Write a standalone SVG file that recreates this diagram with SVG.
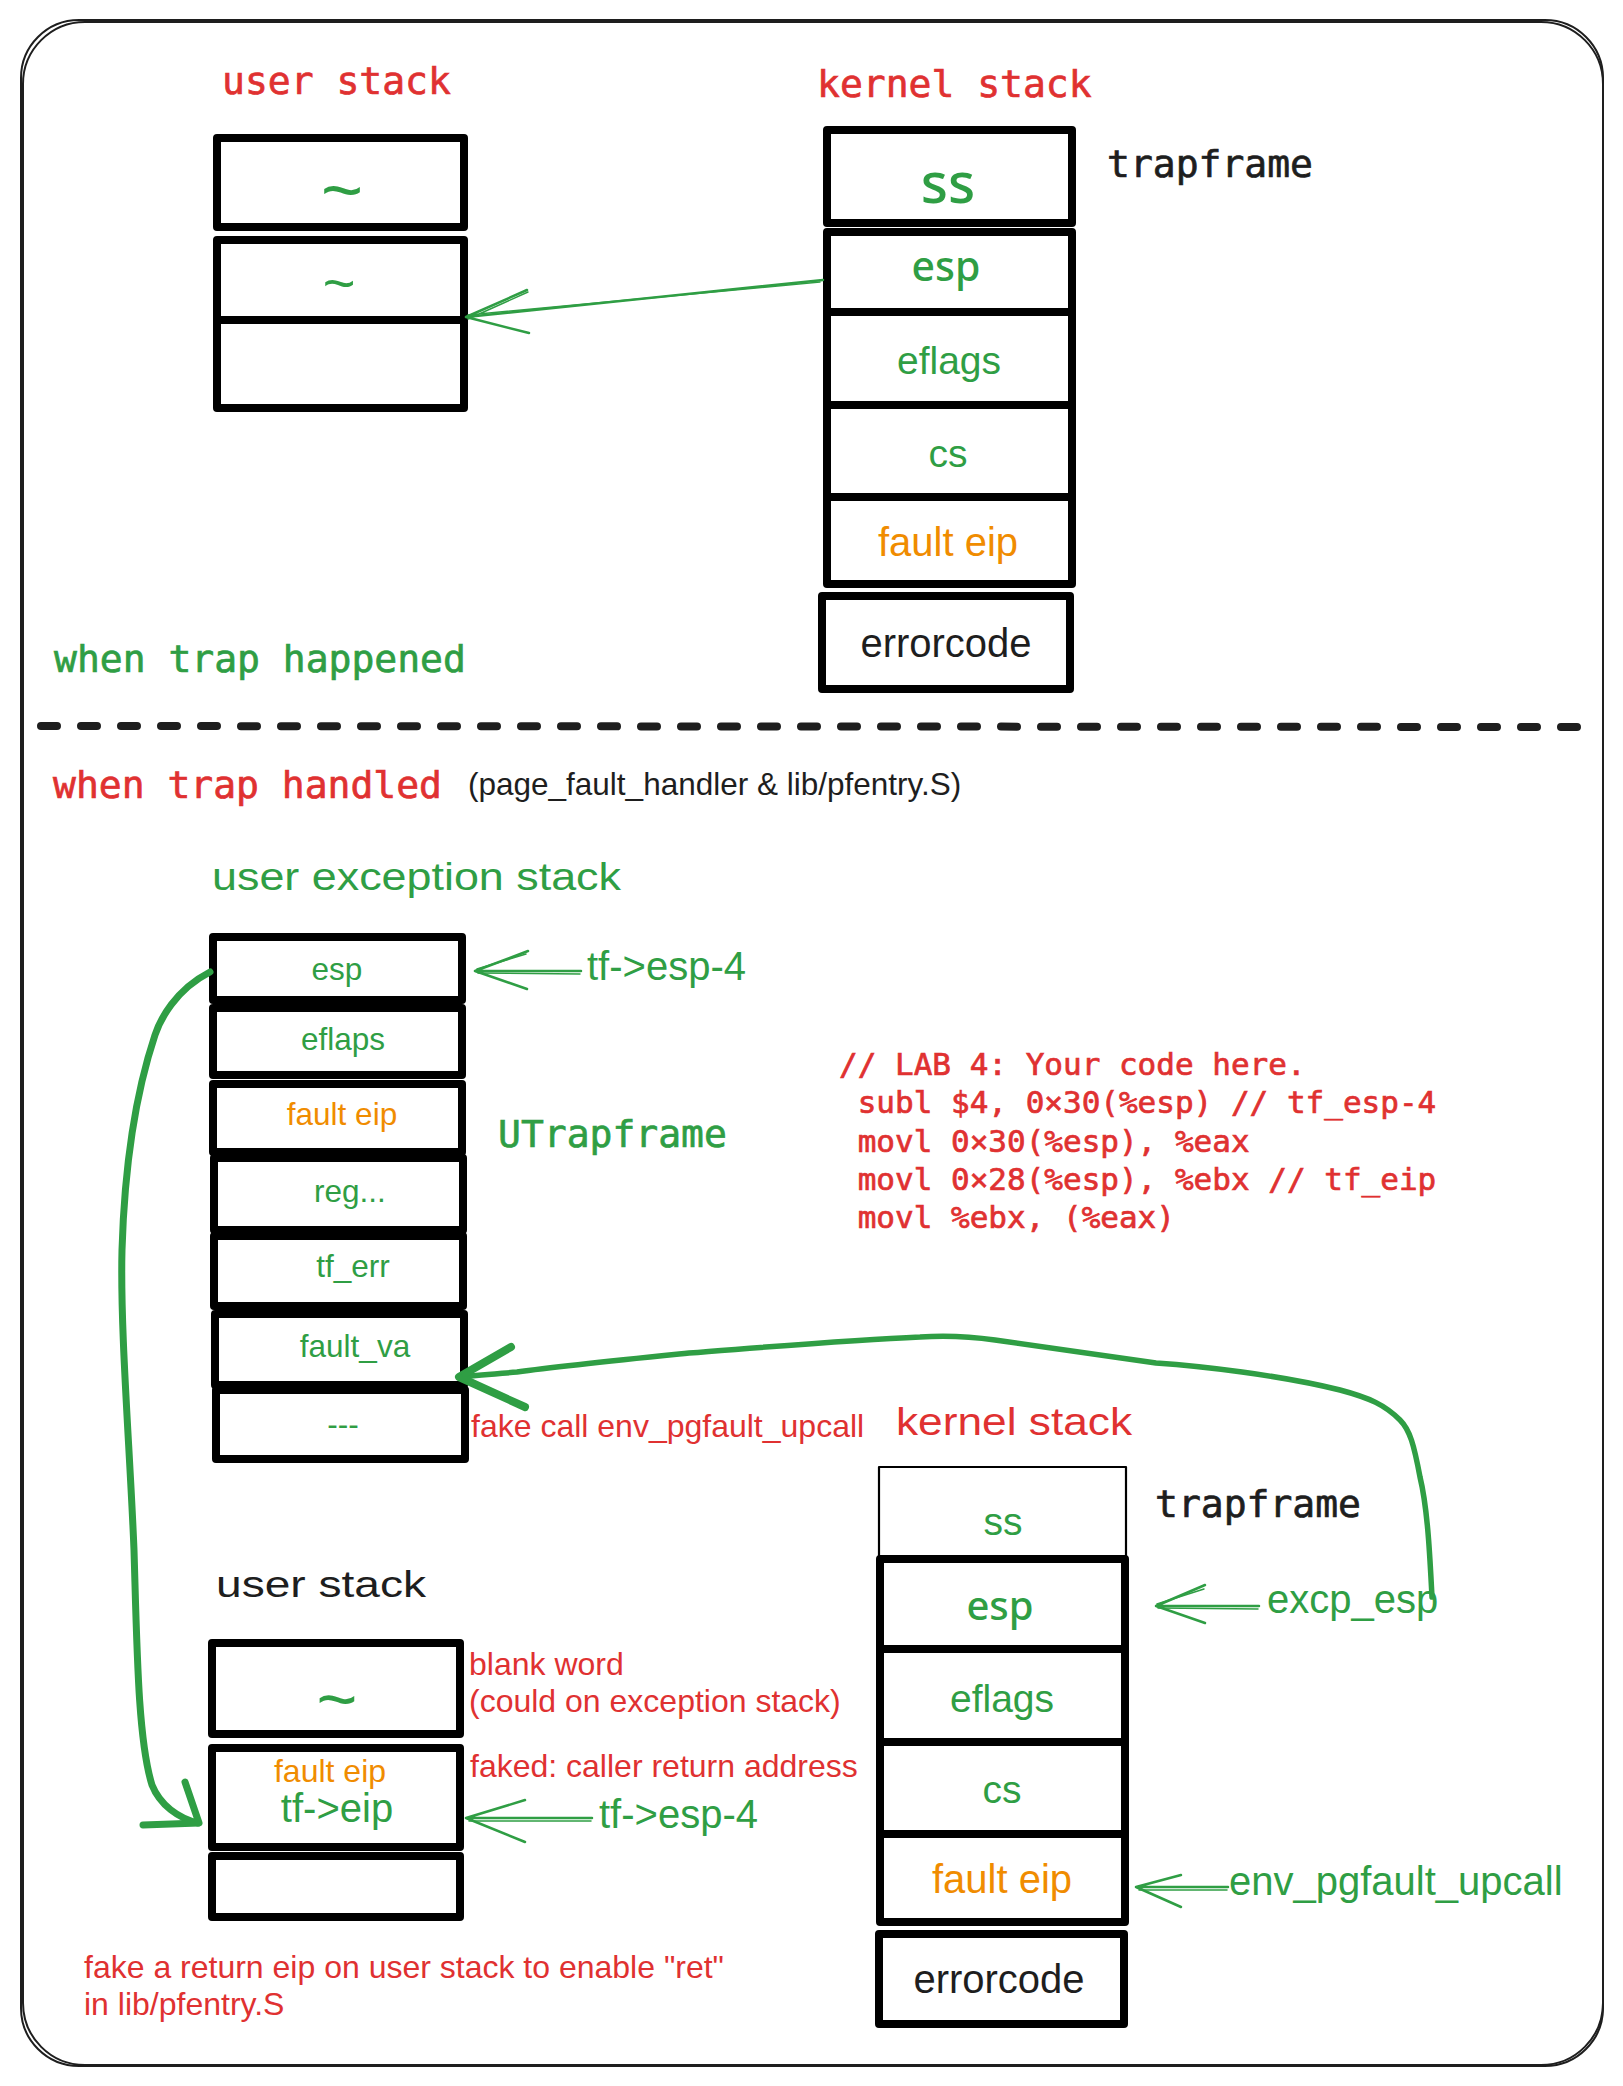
<svg xmlns="http://www.w3.org/2000/svg" width="1623" height="2086" viewBox="0 0 1623 2086">
<style>
.box{fill:#fff;stroke:#000;stroke-width:8;stroke-linejoin:round;stroke-linecap:round}
.thin{fill:#fff;stroke:#000;stroke-width:2.2;stroke-linejoin:round}
.mono{font-family:"DejaVu Sans Mono","Liberation Mono",monospace;stroke-width:0.7}
.sans{font-family:"Liberation Sans",Arial,sans-serif}
.noto{font-family:"Noto Sans","Open Sans",sans-serif;font-weight:500}
.hand{font-family:"Liberation Sans",Arial,sans-serif}
.g{fill:#2f9e44}.r{fill:#e03131}.o{fill:#f08c00}.k{fill:#1e1e1e}
.mono.g{stroke:#2f9e44}.mono.r,.mono .r{stroke:#e03131}.mono.k{stroke:#1e1e1e}
.mid{text-anchor:middle}
.conn{fill:none;stroke:#2f9e44;stroke-linecap:round;stroke-linejoin:round}
.frame{fill:none;stroke:#1e1e1e;stroke-width:2}
</style>
<rect width="1623" height="2086" fill="#fff"/>

<g id="frame">
<rect class="frame" x="21" y="20" width="1582" height="2046" rx="58"/>
<rect class="frame" x="23" y="22" width="1580" height="2043" rx="62" stroke-width="1.4"/>
</g>

<g id="user-stack-top">
<text class="mono r" x="222" y="94" font-size="38">user stack</text>
<rect class="box" x="217" y="138" width="247" height="89"/>
<rect class="box" x="217" y="240" width="247" height="80"/>
<rect class="box" x="217" y="320" width="247" height="88"/>
<text class="sans g mid" x="342" y="215" font-size="72">~</text>
<text class="sans g mid" x="339" y="302" font-size="56">~</text>
</g>

<g id="kernel-stack-top">
<text class="mono r" x="817" y="97" font-size="38">kernel stack</text>
<text class="mono k" x="1107" y="177" font-size="38">trapframe</text>
<rect class="box" x="827" y="130" width="245" height="93"/>
<rect class="box" x="827" y="232" width="245" height="80"/>
<rect class="box" x="827" y="312" width="245" height="93"/>
<rect class="box" x="827" y="405" width="245" height="92"/>
<rect class="box" x="827" y="497" width="245" height="87"/>
<rect class="box" x="822" y="596" width="248" height="93"/>
<text class="noto g mid" x="948" y="203" font-size="56">ss</text>
<text class="noto g mid" x="946" y="281" font-size="41">esp</text>
<text class="sans g mid" x="949" y="374" font-size="39">eflags</text>
<text class="sans g mid" x="948" y="467" font-size="39">cs</text>
<text class="sans o mid" x="948" y="556" font-size="40">fault eip</text>
<text class="sans k mid" x="946" y="657" font-size="40">errorcode</text>
</g>

<g id="label-happened">
<text class="mono g" x="54" y="672" font-size="38">when trap happened</text>
</g>

<g id="separator">
<path d="M41 726 L1585 727" fill="none" stroke="#1e1e1e" stroke-width="8" stroke-linecap="round" stroke-dasharray="16 24"/>
</g>

<g id="label-handled">
<text class="mono r" x="53" y="798" font-size="38">when trap handled</text>
<text class="sans k" x="468" y="795" font-size="31.5">(page_fault_handler &amp; lib/pfentry.S)</text>
</g>

<g id="user-exception-stack">
<text class="hand g" x="212" y="890" font-size="38" textLength="409" lengthAdjust="spacingAndGlyphs">user exception stack</text>
<rect class="box" x="213" y="937" width="249" height="63"/>
<rect class="box" x="213" y="1008" width="249" height="67"/>
<rect class="box" x="213" y="1084" width="249" height="68"/>
<rect class="box" x="214" y="1158" width="249" height="72"/>
<rect class="box" x="214" y="1236" width="249" height="70"/>
<rect class="box" x="215" y="1314" width="249" height="71"/>
<rect class="box" x="216" y="1390" width="249" height="69"/>
<text class="sans g mid" x="337" y="980" font-size="31.5">esp</text>
<text class="sans g mid" x="343" y="1050" font-size="31.5">eflaps</text>
<text class="sans o mid" x="342" y="1125" font-size="31.5">fault eip</text>
<text class="sans g mid" x="350" y="1202" font-size="31.5">reg...</text>
<text class="sans g mid" x="353" y="1277" font-size="31.5">tf_err</text>
<text class="sans g mid" x="355" y="1357" font-size="31.5">fault_va</text>
<text class="sans g mid" x="343" y="1435" font-size="31.5">---</text>
<text class="mono g" x="498" y="1147" font-size="38">UTrapframe</text>
<text class="sans r" x="471" y="1437" font-size="32">fake call env_pgfault_upcall</text>
</g>

<g id="code" class="mono" font-size="31">
<text class="r" x="839" y="1075" xml:space="preserve">// LAB 4: Your code here.</text>
<text class="r" x="839" y="1113" xml:space="preserve"> subl $4, 0×30(%esp) // tf_esp-4</text>
<text class="r" x="839" y="1152" xml:space="preserve"> movl 0×30(%esp), %eax</text>
<text class="r" x="839" y="1190" xml:space="preserve"> movl 0×28(%esp), %ebx // tf_eip</text>
<text class="r" x="839" y="1228" xml:space="preserve"> movl %ebx, (%eax)</text>
</g>

<g id="kernel-stack-bottom">
<text class="hand r" x="896" y="1435" font-size="38" textLength="236" lengthAdjust="spacingAndGlyphs">kernel stack</text>
<text class="mono k" x="1155" y="1517" font-size="38">trapframe</text>
<rect class="thin" x="879" y="1467" width="247" height="107"/>
<rect class="box" x="880" y="1559" width="245" height="90"/>
<rect class="box" x="880" y="1649" width="245" height="93"/>
<rect class="box" x="880" y="1742" width="245" height="92"/>
<rect class="box" x="880" y="1834" width="245" height="88"/>
<rect class="box" x="879" y="1934" width="245" height="90"/>
<text class="sans g mid" x="1003" y="1535" font-size="39">ss</text>
<text class="noto g mid" x="1000" y="1620" font-size="40">esp</text>
<text class="sans g mid" x="1002" y="1712" font-size="39">eflags</text>
<text class="sans g mid" x="1002" y="1803" font-size="39">cs</text>
<text class="sans o mid" x="1002" y="1893" font-size="40">fault eip</text>
<text class="sans k mid" x="999" y="1993" font-size="40">errorcode</text>
<text class="sans g" x="1267" y="1613" font-size="40">excp_esp</text>
<text class="sans g" x="1229" y="1895" font-size="40">env_pgfault_upcall</text>
</g>

<g id="user-stack-bottom">
<text class="hand k" x="216" y="1597" font-size="36" textLength="210" lengthAdjust="spacingAndGlyphs">user stack</text>
<rect class="box" x="212" y="1643" width="248" height="91"/>
<rect class="box" x="212" y="1748" width="248" height="99"/>
<rect class="box" x="212" y="1856" width="248" height="61"/>
<text class="sans g mid" x="337" y="1723" font-size="70">~</text>
<text class="sans o mid" x="330" y="1782" font-size="32">fault eip</text>
<text class="sans g mid" x="337" y="1822" font-size="40">tf-&gt;eip</text>
<text class="sans r" x="469" y="1675" font-size="32">blank word</text>
<text class="sans r" x="469" y="1712" font-size="32">(could on exception stack)</text>
<text class="sans r" x="470" y="1777" font-size="32">faked: caller return address</text>
<text class="sans g" x="599" y="1828" font-size="40">tf-&gt;esp-4</text>
</g>

<g id="label-tf-esp">
<text class="sans g" x="587" y="980" font-size="40">tf-&gt;esp-4</text>
</g>

<g id="note-bottom" class="sans r" font-size="32">
<text x="84" y="1978">fake a return eip on user stack to enable "ret"</text>
<text x="84" y="2015">in lib/pfentry.S</text>
</g>

<g id="connectors">
<path class="conn" stroke-width="2.5" d="M823 280 L466 317 M466 317 L527 290 M466 317 L529 333"/>
<path class="conn" stroke-width="1.5" d="M820 282 L468 315 M468 319 L528 292"/>
<path class="conn" stroke-width="2.5" d="M581 971 L475 971 M475 971 L528 951 M475 971 L527 989"/>
<path class="conn" stroke-width="1.5" d="M580 974 L478 973 M477 969 L526 954"/>
<path class="conn" stroke-width="7" d="M210 972 C175 990 160 1020 155 1035 C140 1080 125 1150 122 1250 C120 1330 130 1450 134 1550 C137 1650 138 1740 152 1785 C160 1805 178 1818 198 1823"/>
<path class="conn" stroke-width="7" d="M185 1782 L199 1823 L143 1825"/>
<path class="conn" stroke-width="5.5" d="M1432 1597 C1430 1560 1428 1510 1420 1477 C1414 1445 1410 1430 1400 1420 C1385 1405 1370 1398 1340 1390 C1280 1375 1200 1366 1156 1363 C1080 1352 1030 1345 995 1340 C960 1335 935 1336 920 1337 C850 1340 780 1346 689 1353 C620 1360 560 1366 517 1372 C495 1374 475 1376 459 1377"/>
<path class="conn" stroke-width="8" d="M511 1347 L459 1377 L525 1407"/>
<path class="conn" stroke-width="2.5" d="M1259 1606 L1156 1606 M1156 1606 L1205 1585 M1156 1606 L1205 1623"/>
<path class="conn" stroke-width="1.5" d="M1258 1609 L1158 1608 M1157 1604 L1204 1589"/>
<path class="conn" stroke-width="2.5" d="M1228 1887 L1136 1887 M1136 1887 L1181 1875 M1136 1887 L1181 1907"/>
<path class="conn" stroke-width="1.5" d="M1227 1890 L1139 1890"/>
<path class="conn" stroke-width="2.5" d="M592 1818 L466 1818 M466 1818 L525 1800 M466 1818 L525 1842"/>
<path class="conn" stroke-width="1.5" d="M591 1821 L469 1821"/>
</g>
</svg>
